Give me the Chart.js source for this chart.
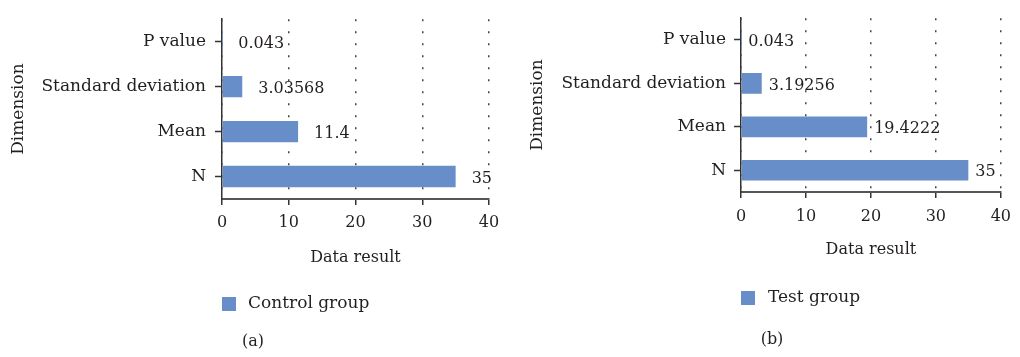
<!DOCTYPE html>
<html>
<head>
<meta charset="utf-8">
<script src="https://cdn.jsdelivr.net/npm/chart.js@4.4.1/dist/chart.umd.min.js"></script>
<style>
  html, body { margin: 0; padding: 0; background: #fff; }
  .panel { position: absolute; top: 0; width: 510px; height: 357px; }
</style>
</head>
<body>
<div class="panel" style="left:0"><canvas id="chartA" width="510" height="357"></canvas></div>
<div class="panel" style="left:510px"><canvas id="chartB" width="510" height="357"></canvas></div>
<script>
// categories top to bottom
const dimensions = ["P value", "Standard deviation", "Mean", "N"];
const controlValues = [0.043, 3.03568, 11.4, 35];
const testValues = [0.043, 3.19256, 19.4222, 35];
const xTicks = [0, 10, 20, 30, 40];

const BAR_COLOR = "#678ec9";
const TEXT_COLOR = "#231f20";
const FONT = "DejaVu Serif";

// value labels next to each bar
const valueLabels = {
  id: "valueLabels",
  afterDatasetsDraw(chart, args, opts) {
    const ctx = chart.ctx;
    const meta = chart.getDatasetMeta(0);
    const values = chart.data.datasets[0].data;
    ctx.save();
    ctx.font = `16px "${FONT}"`;
    ctx.fillStyle = TEXT_COLOR;
    ctx.textAlign = "left";
    ctx.textBaseline = "middle";
    meta.data.forEach((bar, i) => {
      ctx.fillText(String(values[i]), bar.x + opts.offset, bar.y + 2);
    });
    ctx.restore();
  },
};

// legend square + caption under the plot
const legendCaption = {
  id: "legendCaption",
  afterDraw(chart, args, opts) {
    const ctx = chart.ctx;
    const left = chart.chartArea.left;
    ctx.save();
    ctx.fillStyle = chart.data.datasets[0].backgroundColor;
    ctx.fillRect(left, opts.legendY, 14, 14);
    ctx.font = `17px "${FONT}"`;
    ctx.fillStyle = TEXT_COLOR;
    ctx.textBaseline = "middle";
    ctx.textAlign = "left";
    ctx.fillText(chart.data.datasets[0].label, left + opts.textGap, opts.legendY + 7);
    ctx.font = `16px "${FONT}"`;
    ctx.textAlign = "center";
    ctx.fillText(opts.caption, opts.captionX, opts.captionY);
    ctx.restore();
  },
};

function makeChart(id, values, label, cfg) {
  return new Chart(document.getElementById(id), {
    type: "bar",
    data: {
      labels: dimensions,
      datasets: [{
        label: label,
        data: values,
        backgroundColor: BAR_COLOR,
        borderWidth: 0,
        barPercentage: 0.58,
        categoryPercentage: 0.82,
      }],
    },
    plugins: [valueLabels, legendCaption],
    options: {
      responsive: false,
      animation: false,
      indexAxis: "y",
      layout: { padding: { left: 0, right: cfg.padRight, top: cfg.padTop, bottom: cfg.padBottom } },
      scales: {
        x: {
          min: 0,
          max: 40,
          afterBuildTicks: s => { s.ticks = xTicks.map(v => ({ value: v })); },
          afterFit: s => { s.height = cfg.xHeight; },
          grid: {
            color: "#444",
            lineWidth: 1.5,
            tickColor: "#333",
            tickLength: 6,
            tickWidth: 1.5,
          },
          border: { color: "#555", width: 2, dash: [2, 10] },
          ticks: {
            color: TEXT_COLOR,
            font: { family: FONT, size: 16 },
            padding: cfg.xTickPad,
            maxRotation: 0,
          },
          title: {
            display: true,
            text: "Data result",
            color: TEXT_COLOR,
            font: { family: FONT, size: 16 },
            padding: { top: 0, bottom: cfg.xTitlePad },
          },
        },
        y: {
          afterFit: s => { s.width = cfg.plotLeft; },
          grid: {
            offset: false,
            drawOnChartArea: false,
            tickColor: "#333",
            tickLength: 7,
            tickWidth: 1.5,
          },
          border: { color: "#333", width: 1.5 },
          ticks: {
            color: TEXT_COLOR,
            font: { family: FONT, size: 17 },
            padding: cfg.yTickPad,
          },
          title: {
            display: true,
            text: "Dimension",
            color: TEXT_COLOR,
            font: { family: FONT, size: 17 },
            padding: { top: cfg.yTitlePad, bottom: 0 },
          },
        },
      },
      plugins: {
        legend: { display: false },
        tooltip: { enabled: false },
        valueLabels: { offset: cfg.labelOffset },
        legendCaption: {
          legendY: cfg.legendY,
          textGap: cfg.textGap,
          caption: cfg.caption,
          captionX: cfg.captionX,
          captionY: cfg.captionY,
        },
      },
    },
  });
}

makeChart("chartA", controlValues, "Control group", {
  plotLeft: 222, padRight: 21, padTop: 8, padBottom: 83, xHeight: 75,
  xTickPad: 8, xTitlePad: 7, yTickPad: 9, yTitlePad: 8,
  labelOffset: 16, legendY: 297, textGap: 26, caption: "(a)", captionX: 253, captionY: 342,
});

makeChart("chartB", testValues, "Test group", {
  plotLeft: 231, padRight: 12, padTop: 7, padBottom: 90, xHeight: 75,
  xTickPad: 9, xTitlePad: 8, yTickPad: 8, yTitlePad: 17,
  labelOffset: 7, legendY: 291, textGap: 27, caption: "(b)", captionX: 262, captionY: 340,
});
</script>
</body>
</html>
